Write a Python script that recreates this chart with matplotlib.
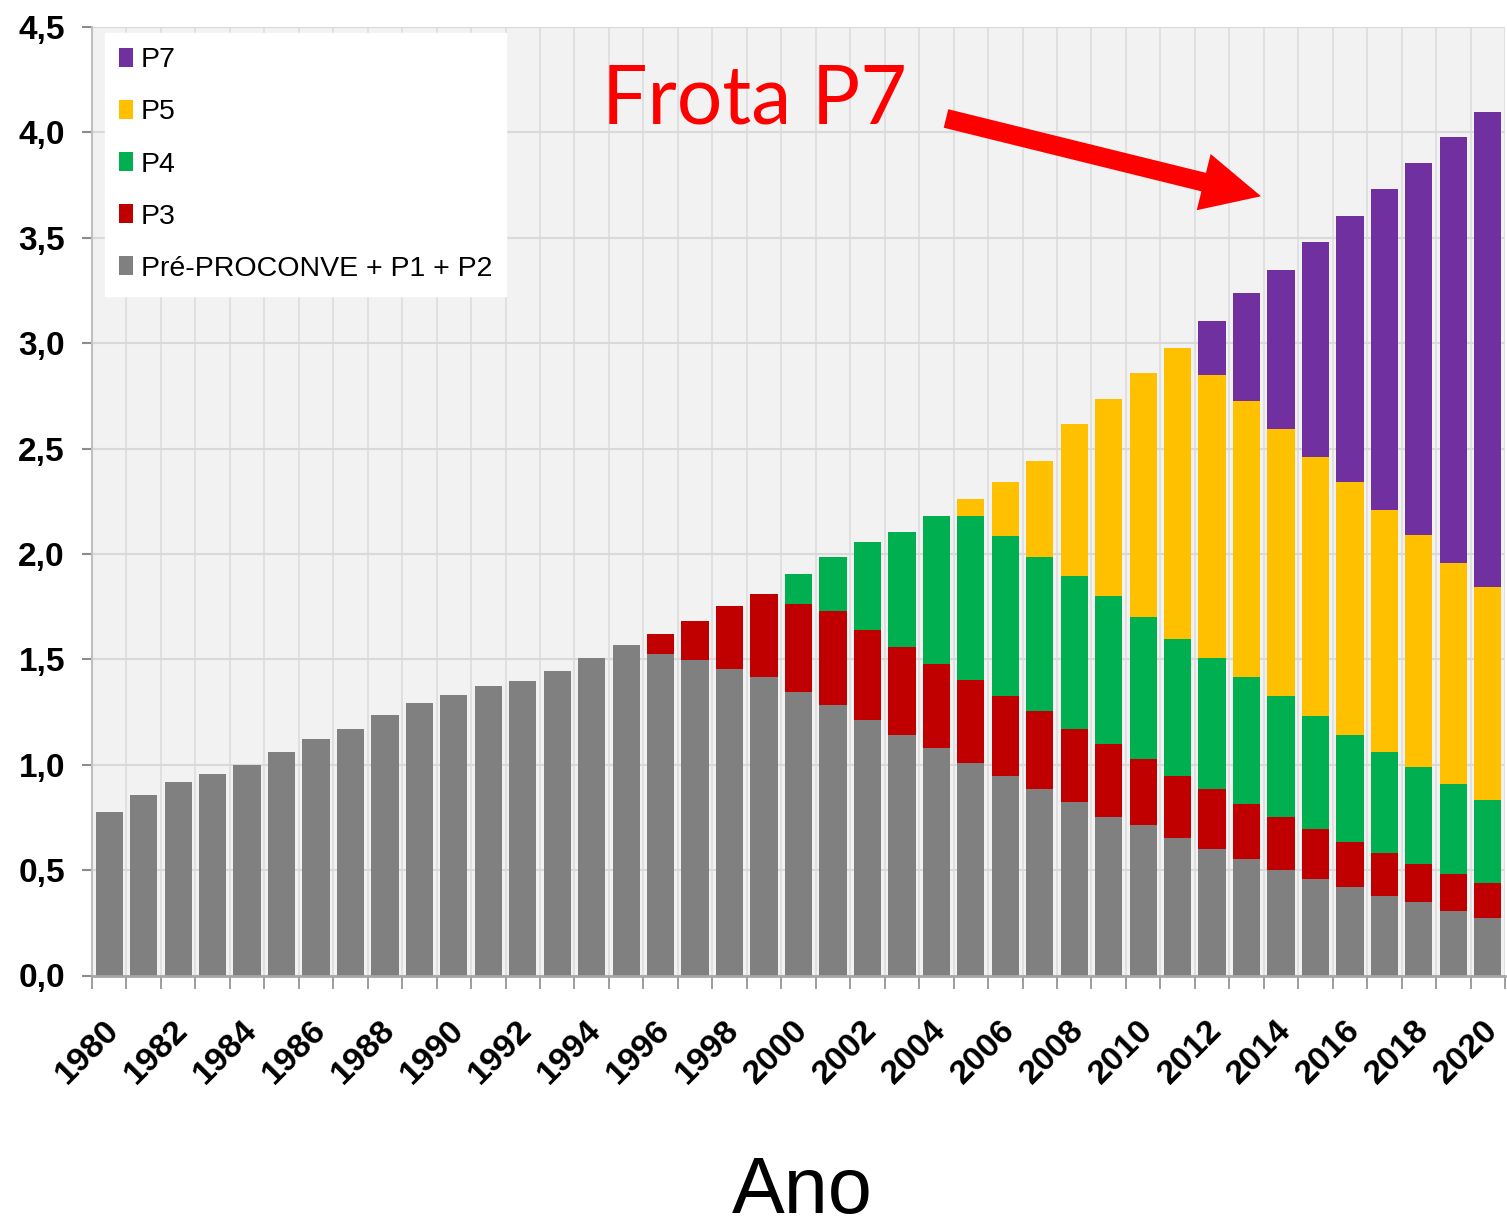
"""Frota por fase do PROCONVE (1980-2020), barras empilhadas estilo Excel."""
import numpy as np
import matplotlib
matplotlib.use("Agg")
import matplotlib.pyplot as plt
from matplotlib.transforms import ScaledTranslation

plt.rcParams["font.family"] = ["Liberation Sans", "DejaVu Sans"]

YEARS = list(range(1980, 2021))

# valores (cada série = altura do segmento)
PRE_P1_P2 = [0.775, 0.857, 0.919, 0.958, 0.997, 1.061, 1.120, 1.171, 1.234, 1.292,
             1.333, 1.374, 1.395, 1.447, 1.507, 1.567, 1.527, 1.497, 1.456, 1.415,
             1.346, 1.283, 1.213, 1.141, 1.081, 1.008, 0.948, 0.887, 0.825, 0.754,
             0.713, 0.652, 0.602, 0.551, 0.499, 0.460, 0.419, 0.378, 0.348, 0.307,
             0.275]
P3 = [0] * 16 + [0.092, 0.183, 0.295, 0.395, 0.415, 0.447, 0.426, 0.418, 0.396,
                 0.396, 0.376, 0.366, 0.346, 0.346, 0.316, 0.295, 0.284, 0.264,
                 0.255, 0.233, 0.214, 0.205, 0.183, 0.173, 0.164]
P4 = [0] * 20 + [0.142, 0.254, 0.416, 0.547, 0.701, 0.774, 0.763, 0.731, 0.722,
                 0.701, 0.672, 0.651, 0.621, 0.600, 0.570, 0.539, 0.508, 0.476,
                 0.457, 0.427, 0.396]
P5 = [0] * 25 + [0.082, 0.252, 0.458, 0.722, 0.935, 1.157, 1.381, 1.342, 1.311,
                 1.271, 1.230, 1.200, 1.149, 1.100, 1.048, 1.007]
P7 = [0] * 32 + [0.255, 0.510, 0.752, 1.017, 1.260, 1.525, 1.768, 2.024, 2.257]

SERIES = [
    ("Pré-PROCONVE + P1 + P2", PRE_P1_P2, "#808080"),
    ("P3", P3, "#C00000"),
    ("P4", P4, "#00B050"),
    ("P5", P5, "#FFC000"),
    ("P7", P7, "#7030A0"),
]

W_PX, H_PX = 1507, 1230


def main():
    fig = plt.figure(figsize=(W_PX / 100, H_PX / 100), dpi=100)
    ax = fig.add_axes([92 / W_PX, 254.5 / H_PX, 1413 / W_PX, 948.5 / H_PX])
    ax.set_facecolor("#F2F2F2")

    x = np.arange(len(YEARS))
    bottom = np.zeros(len(YEARS))
    handles = []
    for label, vals, color in SERIES:
        vals = np.asarray(vals, dtype=float)
        h = ax.bar(x, vals, width=0.79, bottom=bottom, color=color,
                   linewidth=0, label=label, zorder=3)
        handles.append(h)
        bottom += vals

    ax.set_xlim(-0.5, len(YEARS) - 0.5)
    ax.set_ylim(0, 4.5)

    # eixo y
    yt = np.arange(0, 4.51, 0.5)
    ax.set_yticks(yt)
    ax.set_yticklabels([f"{v:.1f}".replace(".", ",") for v in yt],
                       fontsize=24, fontweight="bold")
    ax.tick_params(axis="y", length=7.5, width=1.5, color="#8c8c8c", pad=12)

    # eixo x: rótulos a cada 2 anos, marcas entre categorias
    ax.set_xticks(x[::2])
    ax.set_xticklabels([str(y) for y in YEARS[::2]], fontsize=24.5,
                       fontweight="bold", rotation=45, ha="right",
                       va="center", rotation_mode="anchor")
    ax.tick_params(axis="x", which="major", length=0, pad=36)
    ax.set_xticks(np.arange(-0.5, len(YEARS)), minor=True)
    ax.tick_params(axis="x", which="minor", length=9, width=1.2,
                   color="#8c8c8c")
    off = ScaledTranslation(5 / 100, 0, fig.dpi_scale_trans)
    for t in ax.get_xticklabels():
        t.set_transform(t.get_transform() + off)

    ax.grid(axis="y", which="major", color="#D9D9D9", lw=1.5, zorder=0)
    ax.grid(axis="x", which="minor", color="#DDDDDD", lw=1.2, zorder=0)
    ax.set_axisbelow(True)
    for s in ("top", "right"):
        ax.spines[s].set_visible(False)
    ax.spines["left"].set_color("#BFBFBF")
    ax.spines["left"].set_linewidth(1.5)
    ax.spines["bottom"].set_color("#A6A6A6")
    ax.spines["bottom"].set_linewidth(2)
    ax.spines["bottom"].set_zorder(4)

    leg = ax.legend(handles[::-1], [s[0] for s in SERIES][::-1],
                    loc="upper left", bbox_to_anchor=(0.0092, 0.9937),
                    borderaxespad=0, fontsize=20.5, frameon=True,
                    fancybox=False, framealpha=1, edgecolor="white",
                    handlelength=0.5, handleheight=0.65, handletextpad=0.25,
                    labelspacing=0.92, borderpad=0.5)
    leg.get_frame().set_facecolor("white")
    leg.set_zorder(5)

    ax.text(0.361, 0.8985, "Frota P7", transform=ax.transAxes,
            fontsize=58, color="#FF0000", family=["Lato", "DejaVu Sans"],
            ha="left", va="baseline", zorder=6)
    ax.annotate("", xy=(33.42, 3.697), xytext=(24.28, 4.066),
                arrowprops=dict(arrowstyle="simple,head_length=4.25,"
                                "head_width=4.17,tail_width=1.37",
                                mutation_scale=10, color="#FF0000",
                                shrinkA=0, shrinkB=0, lw=0),
                zorder=6)

    fig.text(802 / W_PX, 17 / H_PX, "Ano", fontsize=57, ha="center",
             va="baseline")

    fig.savefig("out.png", dpi=100)


if __name__ == "__main__":
    main()
